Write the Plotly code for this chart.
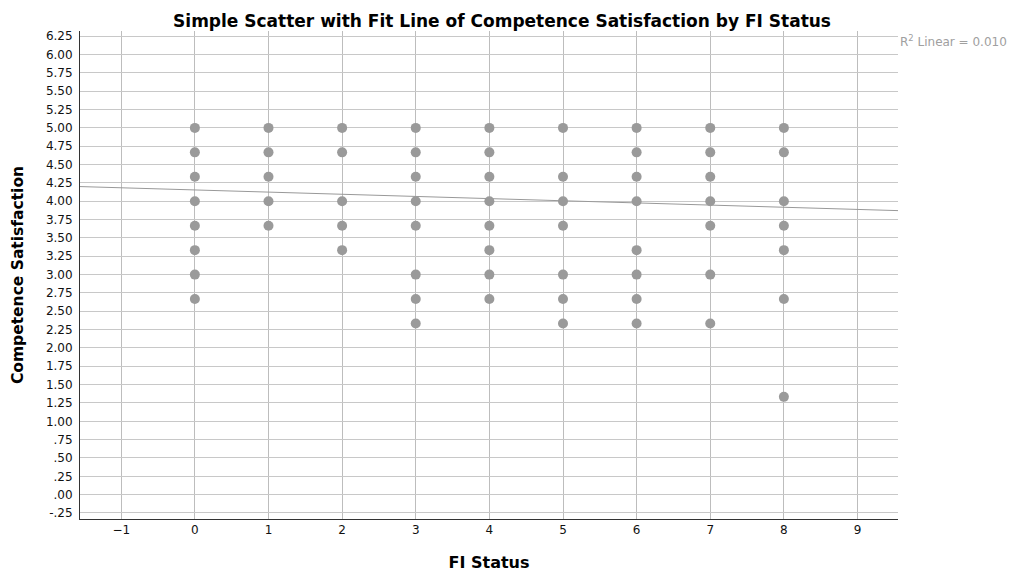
import plotly.graph_objects as go

# Data (values are multiples of 1/3)
fi_status = [0]*8 + [1]*5 + [2]*5 + [3]*8 + [4]*8 + [5]*7 + [6]*8 + [7]*7 + [8]*7
competence = [
    5, 14/3, 13/3, 4, 11/3, 10/3, 3, 8/3,            # 0
    5, 14/3, 13/3, 4, 11/3,                          # 1
    5, 14/3, 4, 11/3, 10/3,                          # 2
    5, 14/3, 13/3, 4, 11/3, 3, 8/3, 7/3,             # 3
    5, 14/3, 13/3, 4, 11/3, 10/3, 3, 8/3,            # 4
    5, 13/3, 4, 11/3, 3, 8/3, 7/3,                   # 5
    5, 14/3, 13/3, 4, 10/3, 3, 8/3, 7/3,             # 6
    5, 14/3, 13/3, 4, 11/3, 3, 7/3,                  # 7
    5, 14/3, 4, 11/3, 10/3, 8/3, 4/3,                # 8
]
fit_intercept = 4.154
fit_slope = -0.0295
r2_text = "R<sup>2</sup> Linear = 0.010"

x_range = [-1.56, 9.55]
y_range = [-0.332, 6.321]
x_ticks = [-1, 0, 1, 2, 3, 4, 5, 6, 7, 8, 9]
y_ticks = [-0.25, 0, 0.25, 0.5, 0.75, 1, 1.25, 1.5, 1.75, 2, 2.25, 2.5, 2.75,
           3, 3.25, 3.5, 3.75, 4, 4.25, 4.5, 4.75, 5, 5.25, 5.5, 5.75, 6, 6.25]
y_ticktext = ["-.25", ".00", ".25", ".50", ".75", "1.00", "1.25", "1.50", "1.75",
              "2.00", "2.25", "2.50", "2.75", "3.00", "3.25", "3.50", "3.75",
              "4.00", "4.25", "4.50", "4.75", "5.00", "5.25", "5.50", "5.75",
              "6.00", "6.25"]

fit_x = x_range
fit_y = [fit_intercept + fit_slope * v for v in fit_x]

fig = go.Figure()
fig.add_trace(go.Scatter(
    x=fit_x, y=fit_y, mode="lines",
    line=dict(color="#999999", width=1), hoverinfo="skip", showlegend=False))
fig.add_trace(go.Scatter(
    x=fi_status, y=competence, mode="markers",
    marker=dict(color="#9a9a9a", size=10, line=dict(width=0)),
    showlegend=False))

font_fam = "DejaVu Sans, sans-serif"
fig.update_layout(
    width=1013, height=575,
    margin=dict(l=72, r=123, t=23, b=64, autoexpand=False),
    paper_bgcolor="white", plot_bgcolor="white",
    font=dict(family=font_fam, color="#111111", size=12),
    title=dict(text="<b>Simple Scatter with Fit Line of Competence Satisfaction by FI Status</b>",
               x=0.4877, xanchor="center", y=0.977, yanchor="middle",
               font=dict(size=17, color="#000000", family=font_fam)),
    xaxis=dict(range=x_range, tickvals=x_ticks, showgrid=True, gridcolor="#bdbdbd",
               gridwidth=1, zeroline=False, showline=True, linecolor="#333333",
               linewidth=1, ticks="", tickfont=dict(size=12, color="#111111"),
               automargin=False,
               title=dict(text="<b>FI Status</b>", font=dict(size=16, color="#000000"),
                          standoff=20)),
    yaxis=dict(range=y_range, tickvals=y_ticks, ticktext=y_ticktext, showgrid=True,
               gridcolor="#c8c8c8", gridwidth=1, zeroline=False, showline=True,
               linecolor="#333333", linewidth=1, ticks="", ticklabelstandoff=4,
               tickfont=dict(size=12, color="#111111"), automargin=False,
               title=dict(text="<b>Competence Satisfaction</b>",
                          font=dict(size=15.5, color="#000000"), standoff=18)),
    annotations=[dict(text=r2_text, xref="paper", yref="paper", x=1.0, y=0.98,
                      xanchor="left", yanchor="middle", showarrow=False, xshift=0,
                      font=dict(size=12, color="#a0a0a0", family=font_fam))],
)

fig.write_html("out.html")
